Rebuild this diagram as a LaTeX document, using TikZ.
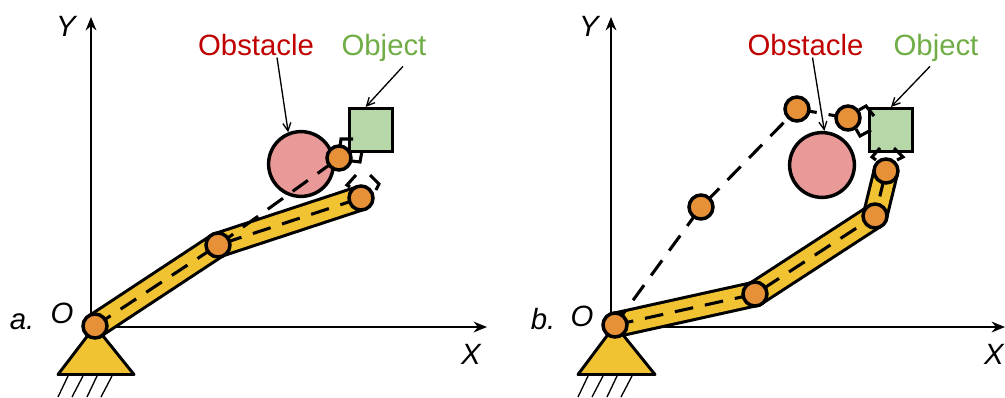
\documentclass[tikz,border=0pt]{standalone}
\usepackage{fontspec}
\setmainfont{Liberation Sans}
\usepackage{xcolor}
\usetikzlibrary{calc,arrows.meta,positioning}
\definecolor{linkc}{HTML}{F1C232}
\definecolor{jointc}{HTML}{E69138}
\definecolor{obsc}{HTML}{EA9999}
\definecolor{objc}{HTML}{B6D7A8}
\definecolor{redc}{HTML}{C00000}
\definecolor{grnc}{HTML}{70AD47}
\tikzset{
  ax/.style={-{Stealth[length=10pt,width=8pt]},line width=2.1pt},
  ar/.style={-{Straight Barb[length=6pt,width=6pt]},line width=1pt},
  lk/.style={line width=20pt},
  lkf/.style={linkc,line width=15.4pt,shorten >=-0.5pt,shorten <=-0.5pt},
  ph/.style={line width=2.3pt,dash pattern=on 14pt off 9pt},
  grip/.style={line width=2.3pt,line join=miter},
  nd/.style={circle,draw,line width=2.6pt,fill=jointc,minimum size=18pt,inner sep=0pt},
  ob/.style={circle,draw,line width=2.6pt,fill=obsc,minimum size=48.6pt,inner sep=0pt},
  sq/.style={draw,line width=2.6pt,fill=objc,minimum size=32pt,inner sep=0pt},
  lab/.style={font=\fontsize{22}{22}\selectfont,inner sep=0pt,anchor=base},
  axl/.style={font=\fontsize{22}{22}\selectfont\itshape,inner sep=0pt,anchor=base}
}
\begin{document}
\begin{tikzpicture}[x=0.75pt,y=-0.75pt]
\useasboundingbox (0,0) rectangle (1005,397);
% panel a
\draw[ax] (91,327)--(91,17);
\draw[ax] (91,327)--(487,327);
\coordinate (a1) at (95,326);
\coordinate (a2) at (218,245);
\coordinate (a3) at (361,198);
\coordinate (a4) at (339,158);
\node[ob] (cira) at (301,164) {};
\node[sq] (boxa) at (371,130) {};
\foreach \u/\v in {a1/a2,a2/a3}{
 \draw[lk] (\u)--(\v);
 \draw[lkf] (\u)--(\v);}
\draw[fill=linkc,line width=2.2pt,line join=round] (58,374.5)--(95,326)--(134,374.5)--cycle;
\foreach \t/\b in {68/58,83/72,97/87,112/101}{\draw[line width=1pt] (\t,376)--(\b,397);}
\draw[ph] (a1)--(a2)--(a3);
\draw[ph] (a2)--(a4);
\draw[grip] (350,187)--(347,185)--(356,175);
\draw[grip] (376,190)--(379,184)--(370,175);
\draw[grip] (340,147)--(341,139)--(353,139);
\draw[grip] (352,161)--(360,162)--(362,151);
\foreach \p in {a1,a2,a3,a4}{\node[nd] (n\p) at (\p) {};}
\node[lab,redc] (obsa) at (256,55) {Obstacle};
\node[lab,grnc] (obja) at (384,55) {Object};
\draw[ar] (obsa.south)++(21,2)--(cira.112);
\draw[ar] (obja.south)++(19,5)--(boxa.103);
\node[axl] (ya) at (66,36) {Y};
\node[axl] (xa) at (471,364) {X};
\node[axl] (oa) at (62,323) {O};
\node[axl] (la) at (22,329) {a.};
% panel b
\draw[ax] (611,327)--(611,17);
\draw[ax] (611,327)--(1005,327);
\coordinate (b1) at (615,325);
\coordinate (b2) at (755,294);
\coordinate (b3) at (875,216);
\coordinate (b4) at (886,171);
\coordinate (b5) at (701,207);
\coordinate (b6) at (797,109);
\coordinate (b7) at (848,118);
\node[ob] (cirb) at (822,165) {};
\node[sq] (boxb) at (891,130) {};
\foreach \u/\v in {b1/b2,b2/b3,b3/b4}{
 \draw[lk] (\u)--(\v);
 \draw[lkf] (\u)--(\v);}
\draw[fill=linkc,line width=2.2pt,line join=round] (578,374.5)--(615,325)--(655,374.5)--cycle;
\foreach \t/\b in {588/578,603/592,617/607,632/621}{\draw[line width=1pt] (\t,376)--(\b,397);}
\draw[ph] (b1)--(b2)--(b3)--(b4);
\draw[ph] (b1)--(b5)--(b6);
\draw[ph,dash pattern=on 15pt off 9pt] (b6)--(b7);
\draw[grip] (859,110)--(866,106)--(874,116);
\draw[grip] (856,129)--(860,136)--(871,130);
\draw[grip] (876,160)--(872,157)--(880,148);
\draw[grip] (897,160)--(903,157)--(894,148);
\foreach \p in {b1,b2,b3,b4,b5,b6,b7}{\node[nd] (n\p) at (\p) {};}
\node[lab,redc] (obsb) at (805.5,55) {Obstacle};
\node[lab,grnc] (objb) at (936,55) {Object};
\draw[ar] (obsb.south)++(7,2)--(cirb.86);
\draw[ar] (objb.south)++(-6,5)--(boxb.90);
\node[axl] (yb) at (589,36) {Y};
\node[axl] (xb) at (994,364) {X};
\node[axl] (ob) at (582,326) {O};
\node[axl] (lb) at (543,329) {b.};
\end{tikzpicture}
\end{document}
